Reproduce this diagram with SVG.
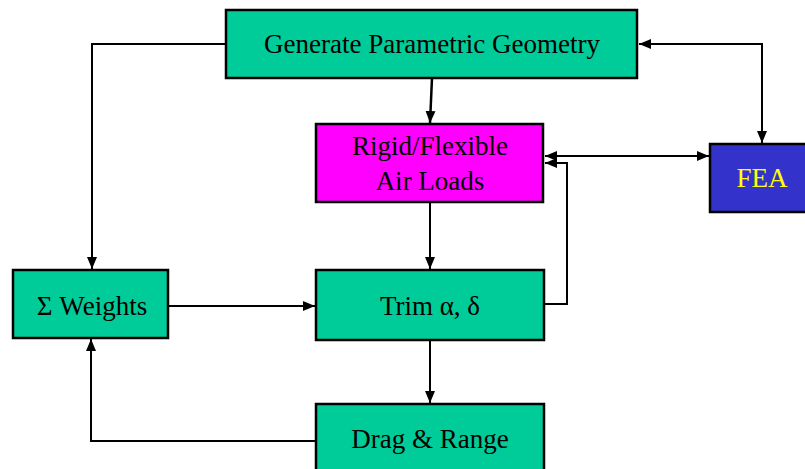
<svg xmlns="http://www.w3.org/2000/svg" width="805" height="469" viewBox="0 0 805 469">
<style>
.box{stroke:#000;stroke-width:2.5}
.g{fill:#00CC99}
.m{fill:#FF00FF}
.b{fill:#3333CC}
.t{font-family:"Liberation Serif","Times New Roman",serif;font-size:27px;text-anchor:middle;fill:#000}
.y{fill:#FFFF00}
.c{fill:none;stroke:#000;stroke-width:2}
</style>
<defs>
<marker id="ah" viewBox="0 0 12 10" refX="12" refY="5" markerWidth="12" markerHeight="10" markerUnits="userSpaceOnUse" orient="auto-start-reverse">
<path d="M0,0 L12,5 L0,10 z" fill="#000"/>
</marker>
</defs>
<g id="connectors">
<path class="c" d="M432,78 L430,123" marker-end="url(#ah)" style="stroke-width:2.5"/>
<path class="c" d="M430,202 L430,269" marker-end="url(#ah)"/>
<path class="c" d="M430,340 L430,403" marker-end="url(#ah)"/>
<path class="c" d="M168,306 L315,306" marker-end="url(#ah)"/>
<path class="c" d="M226,44 L92,44 L92,269" marker-end="url(#ah)"/>
<path class="c" d="M316,441 L91,441 L91,339" marker-end="url(#ah)"/>
<path class="c" d="M544,304 L567,304 L567,163 L545,163" marker-end="url(#ah)"/>
<path class="c" d="M545,156 L709,156" marker-start="url(#ah)" marker-end="url(#ah)"/>
<path class="c" d="M639,44 L762,44 L762,143" marker-start="url(#ah)" marker-end="url(#ah)"/>
</g>
<g id="generate">
<rect class="box g" x="226" y="10" width="411" height="68"/>
<text class="t" x="432" y="53">Generate Parametric Geometry</text>
</g>
<g id="airloads">
<rect class="box m" x="316" y="124" width="227" height="78"/>
<text class="t" x="430" y="155">Rigid/Flexible</text>
<text class="t" x="430" y="190">Air Loads</text>
</g>
<g id="fea">
<rect class="box b" x="710" y="144" width="100" height="68"/>
<text class="t y" x="762" y="187">FEA</text>
</g>
<g id="weights">
<rect class="box g" x="13" y="270" width="155" height="68"/>
<text class="t" x="92" y="315">Σ Weights</text>
</g>
<g id="trim">
<rect class="box g" x="316" y="270" width="228" height="70"/>
<text class="t" x="430" y="315">Trim α, δ</text>
</g>
<g id="drag">
<rect class="box g" x="316" y="404" width="228" height="70"/>
<text class="t" x="430" y="448">Drag &amp; Range</text>
</g>
</svg>
